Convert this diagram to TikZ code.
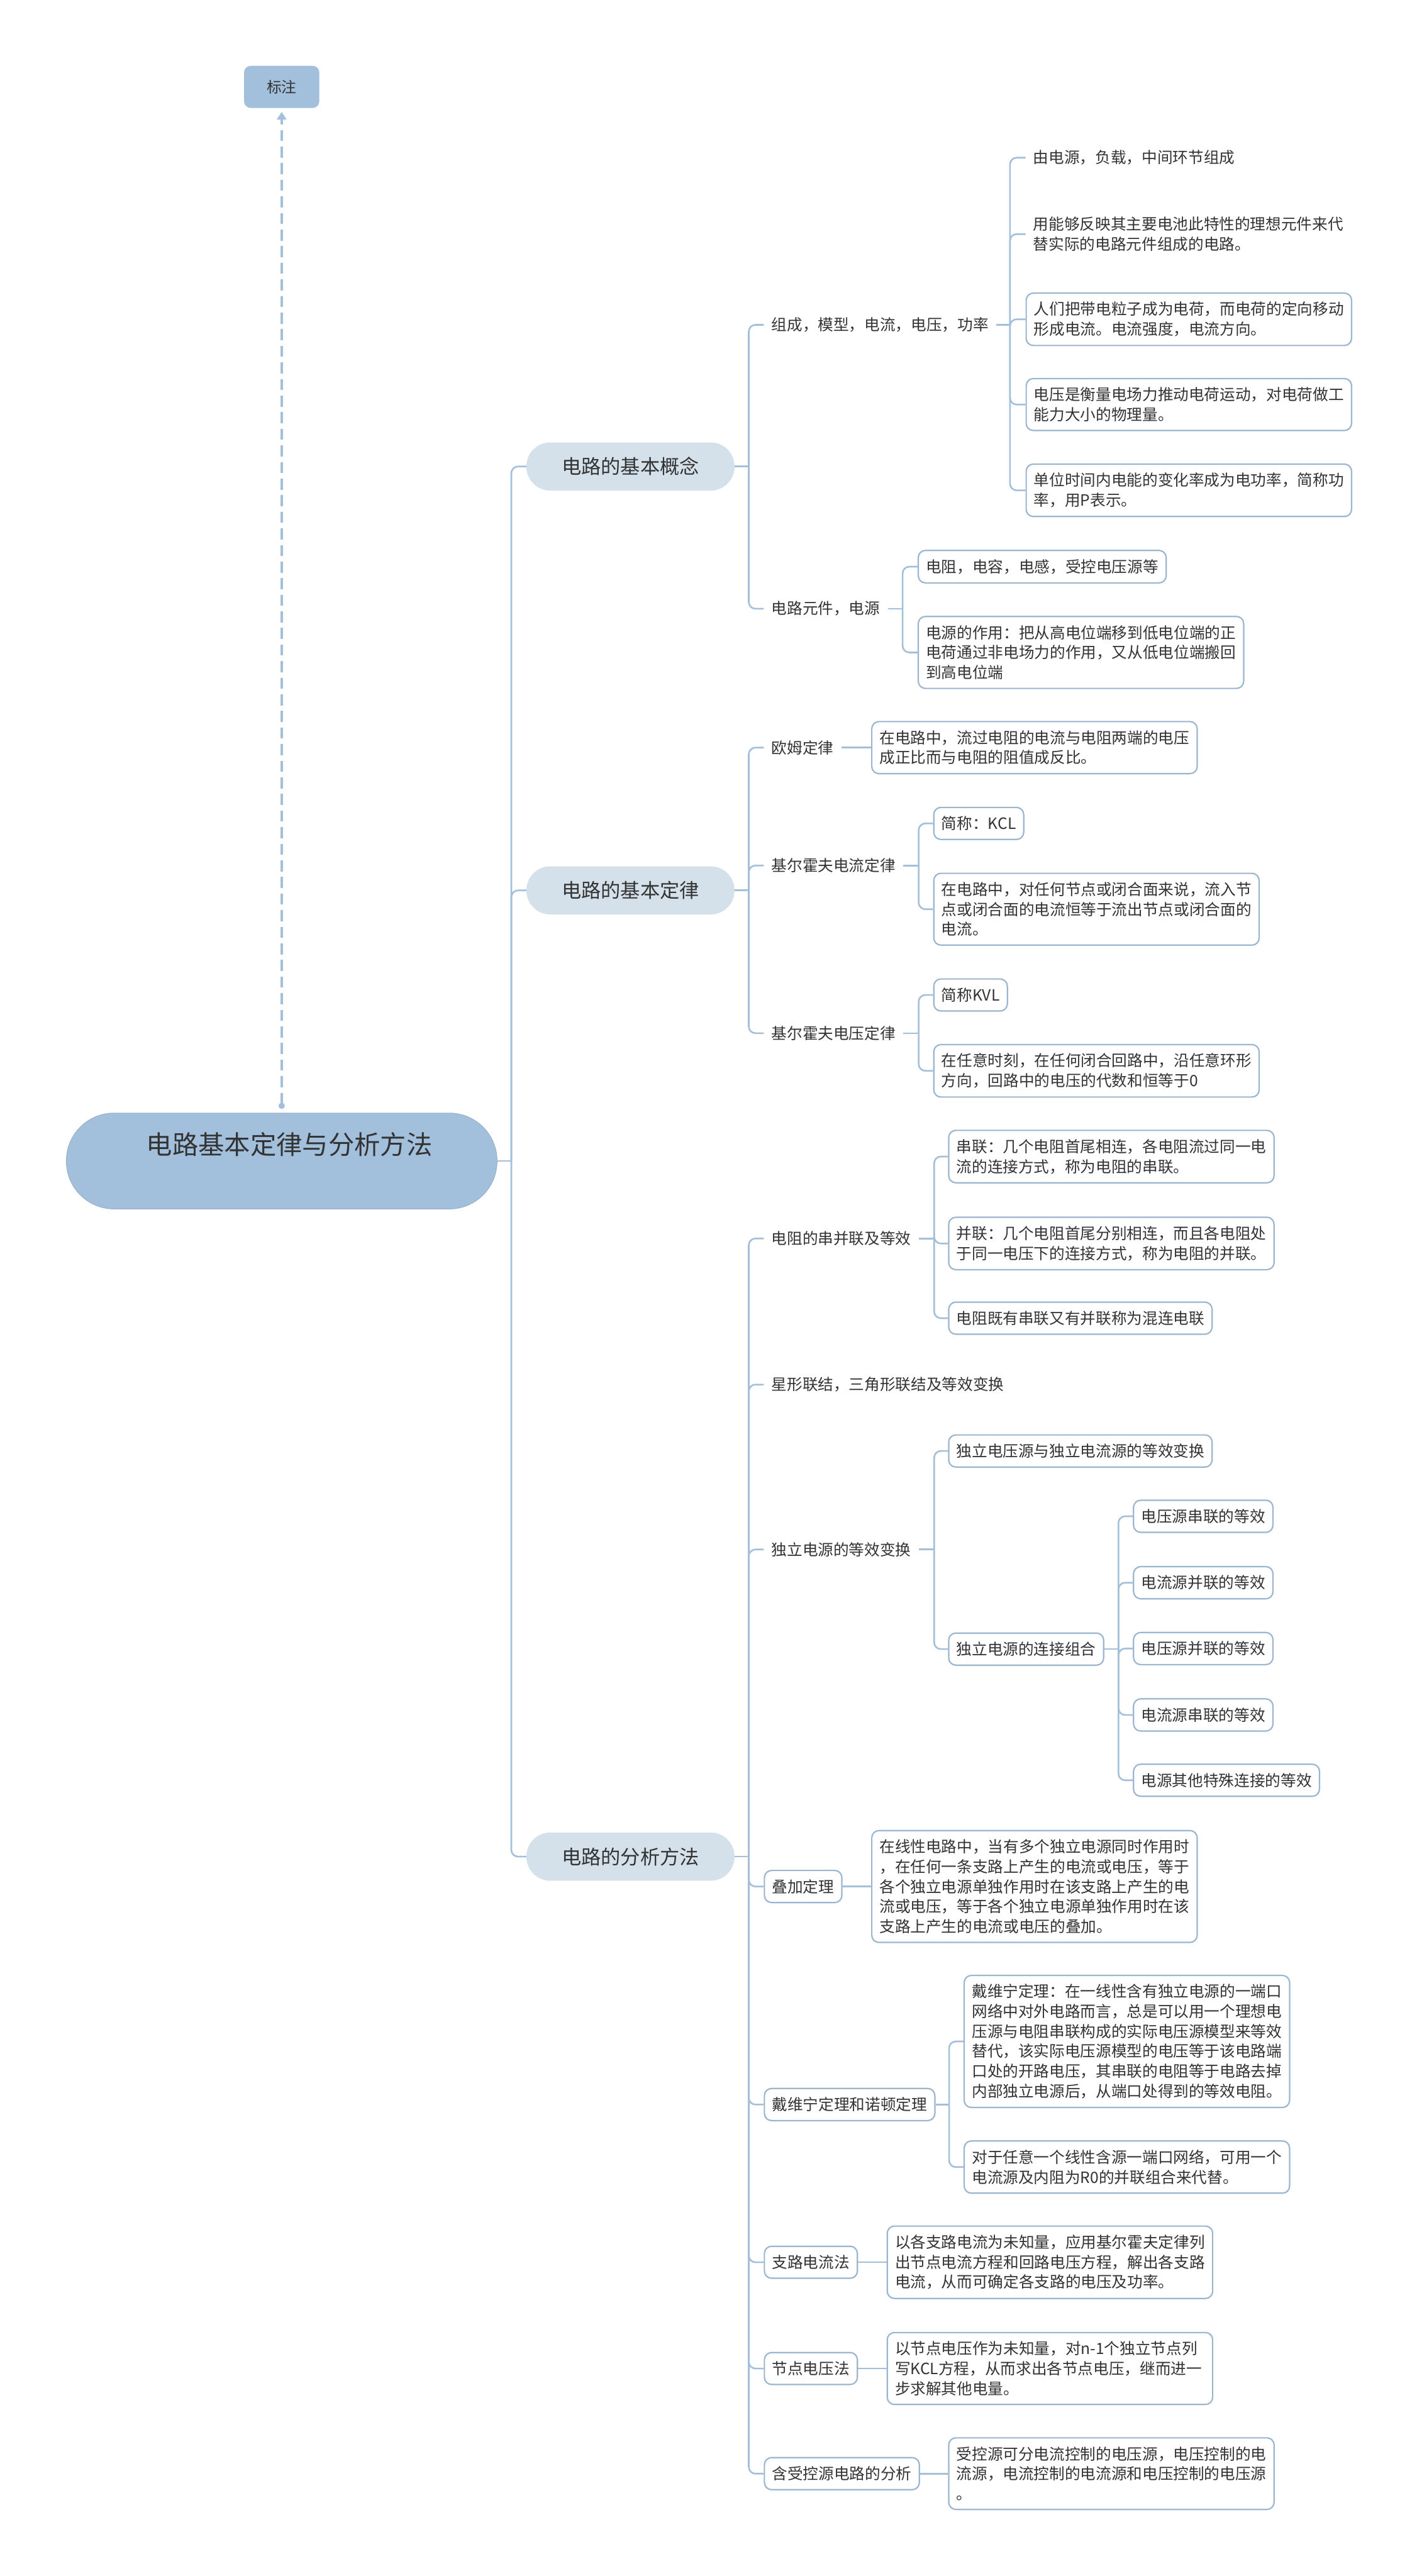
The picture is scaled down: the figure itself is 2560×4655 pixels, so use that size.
\documentclass[tikz,border=0pt]{standalone}
\usepackage{fontspec}
\setmainfont{Noto Sans CJK SC}
\usetikzlibrary{arrows.meta}
\definecolor{rootblue}{HTML}{A2BFDB}
\definecolor{topicblue}{HTML}{D4E1EA}
\definecolor{linkblue}{HTML}{A3BFDA}
\definecolor{edgeblue}{HTML}{9DB6CF}
\definecolor{ink}{HTML}{333333}

\begin{document}
\begin{tikzpicture}[x=1pt,y=-1pt,every node/.style={inner xsep=14pt,inner ysep=16pt,text=ink,font=\fontsize{28}{36}\selectfont}]
\tikzstyle{root}=[fill=rootblue,draw=edgeblue,line width=1.5pt,rounded corners=86pt,minimum width=778pt,minimum height=173pt,inner ysep=0pt,text height=74pt,text depth=99pt,font=\fontsize{47}{56}\selectfont]
\tikzstyle{note}=[fill=rootblue,rounded corners=12pt,minimum width=136pt,minimum height=76pt,inner ysep=0pt,font=\fontsize{27}{32}\selectfont]
\tikzstyle{topic}=[anchor=west,fill=topicblue,rounded corners=43pt,minimum width=376pt,minimum height=87pt,inner ysep=0pt,font=\fontsize{35.5}{42}\selectfont]
\tikzstyle{item}=[anchor=west,align=left]
\tikzstyle{card}=[item,draw=edgeblue,line width=2.5pt,rounded corners=13pt,fill=white]
\tikzstyle{wide}=[card,text width=560pt]
\tikzstyle{link}=[draw=linkblue,line width=3pt,rounded corners=12pt]
\tikzstyle{callout}=[draw=linkblue,line width=4pt,dash pattern=on 20pt off 10pt,shorten <=7pt,shorten >=7pt,{Circle[length=11pt]}-{Triangle[length=14pt,width=17pt]}]
\useasboundingbox (0,0) rectangle (2560,4655);

\node[root](n0) at (509,2098){\hspace*{28pt}电路基本定律与分析方法};
\node[note](n00) at (509,157){标注};
\path[callout](n0.north)--(n00.south);

\node[topic](n1) at (951,843){电路的基本概念};
\node[topic](n2) at (951,1609){电路的基本定律};
\node[topic](n3) at (951,3355){电路的分析方法};

% 电路的基本概念
\node[item](n11) at (1380,587){组成，模型，电流，电压，功率};
\node[item,text width=560pt](n111) at (1853,285){由电源，负载，中间环节组成};
\node[item,text width=560pt](n112) at (1853,423){用能够反映其主要电池此特性的理想元件来代\\替实际的电路元件组成的电路。};
\node[wide](n113) at (1853,577){人们把带电粒子成为电荷，而电荷的定向移动\\形成电流。电流强度，电流方向。};
\node[wide](n114) at (1853,731){电压是衡量电场力推动电荷运动，对电荷做工\\能力大小的物理量。};
\node[wide](n115) at (1853,886){单位时间内电能的变化率成为电功率，简称功\\率，用P表示。};
\node[item](n12) at (1380,1100){电路元件，电源};
\node[card](n121) at (1658,1024){电阻，电容，电感，受控电压源等};
\node[wide](n122) at (1658,1179){电源的作用：把从高电位端移到低电位端的正\\电荷通过非电场力的作用，又从低电位端搬回\\到高电位端};

% 电路的基本定律
\node[item](n21) at (1380,1351){欧姆定律};
\node[wide](n211) at (1574,1351){在电路中，流过电阻的电流与电阻两端的电压\\成正比而与电阻的阻值成反比。};
\node[item](n22) at (1380,1564){基尔霍夫电流定律};
\node[card](n221) at (1686,1488){简称：KCL};
\node[wide](n222) at (1686,1643){在电路中，对任何节点或闭合面来说，流入节\\点或闭合面的电流恒等于流出节点或闭合面的\\电流。};
\node[item](n23) at (1380,1867){基尔霍夫电压定律};
\node[card](n231) at (1686,1798){简称KVL};
\node[wide](n232) at (1686,1935){在任意时刻，在任何闭合回路中，沿任意环形\\方向，回路中的电压的代数和恒等于0};

% 电路的分析方法
\node[item](n31) at (1380,2238){电阻的串并联及等效};
\node[wide](n311) at (1713,2090){串联：几个电阻首尾相连，各电阻流过同一电\\流的连接方式，称为电阻的串联。};
\node[wide](n312) at (1713,2247){并联：几个电阻首尾分别相连，而且各电阻处\\于同一电压下的连接方式，称为电阻的并联。};
\node[card](n313) at (1713,2382){电阻既有串联又有并联称为混连电联};
\node[item](n32) at (1380,2502){星形联结，三角形联结及等效变换};
\node[item](n33) at (1380,2800){独立电源的等效变换};
\node[card](n331) at (1713,2622){独立电压源与独立电流源的等效变换};
\node[card](n332) at (1713,2980){独立电源的连接组合};
\node[card](n3321) at (2047,2740){电压源串联的等效};
\node[card](n3322) at (2047,2860){电流源并联的等效};
\node[card](n3323) at (2047,2979){电压源并联的等效};
\node[card](n3324) at (2047,3099){电流源串联的等效};
\node[card](n3325) at (2047,3217){电源其他特殊连接的等效};
\node[card](n34) at (1380,3409){叠加定理};
\node[wide](n341) at (1574,3409){在线性电路中，当有多个独立电源同时作用时\\，在任何一条支路上产生的电流或电压，等于\\各个独立电源单独作用时在该支路上产生的电\\流或电压，等于各个独立电源单独作用时在该\\支路上产生的电流或电压的叠加。};
\node[card](n35) at (1380,3803){戴维宁定理和诺顿定理};
\node[wide](n351) at (1741,3689){戴维宁定理：在一线性含有独立电源的一端口\\网络中对外电路而言，总是可以用一个理想电\\压源与电阻串联构成的实际电压源模型来等效\\替代，该实际电压源模型的电压等于该电路端\\口处的开路电压，其串联的电阻等于电路去掉\\内部独立电源后，从端口处得到的等效电阻。};
\node[wide](n352) at (1741,3916){对于任意一个线性含源一端口网络，可用一个\\电流源及内阻为R0的并联组合来代替。};
\node[card](n36) at (1380,4088){支路电流法};
\node[wide](n361) at (1602,4088){以各支路电流为未知量，应用基尔霍夫定律列\\出节点电流方程和回路电压方程，解出各支路\\电流，从而可确定各支路的电压及功率。};
\node[card](n37) at (1380,4280){节点电压法};
\node[wide](n371) at (1602,4280){以节点电压作为未知量，对n-1个独立节点列\\写KCL方程，从而求出各节点电压，继而进一\\步求解其他电量。};
\node[card](n38) at (1380,4470){含受控源电路的分析};
\node[wide](n381) at (1713,4470){受控源可分电流控制的电压源，电压控制的电\\流源，电流控制的电流源和电压控制的电压源\\。};

% trunk points
\coordinate(j0) at (924,2098);
\coordinate(j1) at (1353,843);
\coordinate(j11) at (1825,587);
\coordinate(j12) at (1631,1100);
\coordinate(j2) at (1353,1609);
\coordinate(j22) at (1660,1564);
\coordinate(j23) at (1660,1867);
\coordinate(j3) at (1353,3355);
\coordinate(j31) at (1688,2238);
\coordinate(j33) at (1688,2800);
\coordinate(j332) at (2021,2980);
\coordinate(j35) at (1715,3803);

\path[link](n0.east)--(j0);
\path[link](j0)|-(n1.west);
\path[link](j0)|-(n2.west);
\path[link](j0)|-(n3.west);

\path[link](n1.east)--(j1);
\path[link](j1)|-(n11.west);
\path[link](j1)|-(n12.west);
\path[link](n11.east)--(j11);
\path[link](j11)|-(n111.west);
\path[link](j11)|-(n112.west);
\path[link](j11)|-(n113.west);
\path[link](j11)|-(n114.west);
\path[link](j11)|-(n115.west);
\path[link](n12.east)--(j12);
\path[link](j12)|-(n121.west);
\path[link](j12)|-(n122.west);

\path[link](n2.east)--(j2);
\path[link](j2)|-(n21.west);
\path[link](j2)|-(n22.west);
\path[link](j2)|-(n23.west);
\path[link](n21.east)--(n211.west);
\path[link](n22.east)--(j22);
\path[link](j22)|-(n221.west);
\path[link](j22)|-(n222.west);
\path[link](n23.east)--(j23);
\path[link](j23)|-(n231.west);
\path[link](j23)|-(n232.west);

\path[link](n3.east)--(j3);
\path[link](j3)|-(n31.west);
\path[link](j3)|-(n32.west);
\path[link](j3)|-(n33.west);
\path[link](j3)|-(n34.west);
\path[link](j3)|-(n35.west);
\path[link](j3)|-(n36.west);
\path[link](j3)|-(n37.west);
\path[link](j3)|-(n38.west);
\path[link](n31.east)--(j31);
\path[link](j31)|-(n311.west);
\path[link](j31)|-(n312.west);
\path[link](j31)|-(n313.west);
\path[link](n33.east)--(j33);
\path[link](j33)|-(n331.west);
\path[link](j33)|-(n332.west);
\path[link](n332.east)--(j332);
\path[link](j332)|-(n3321.west);
\path[link](j332)|-(n3322.west);
\path[link](j332)|-(n3323.west);
\path[link](j332)|-(n3324.west);
\path[link](j332)|-(n3325.west);
\path[link](n34.east)--(n341.west);
\path[link](n35.east)--(j35);
\path[link](j35)|-(n351.west);
\path[link](j35)|-(n352.west);
\path[link](n36.east)--(n361.west);
\path[link](n37.east)--(n371.west);
\path[link](n38.east)--(n381.west);
\end{tikzpicture}
\end{document}
